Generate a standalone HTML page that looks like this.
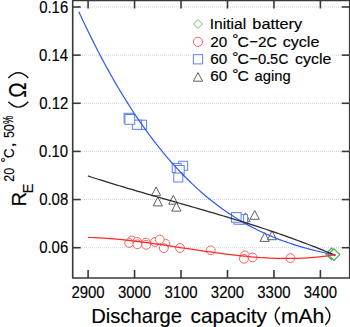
<!DOCTYPE html>
<html><head><meta charset="utf-8"><style>
html,body{margin:0;padding:0;background:#fff;overflow:hidden;width:350px;height:327px;}
svg{display:block;}
text{font-family:"Liberation Sans",sans-serif;fill:#000;stroke:#000;stroke-width:0.16px;}
.ax{stroke:#383838;stroke-width:1.6;fill:none;stroke-linejoin:round;}
.par{stroke:#111;stroke-width:1.45;fill:none;}
.grid{stroke:#d0d0f7;stroke-width:1;stroke-dasharray:1 1;fill:none;}
.sq{fill:#fff;stroke:#5f80f2;stroke-width:1;}
.ci{fill:#fff;stroke:#ff6060;stroke-width:1;}
.tr{fill:#fff;stroke:#606060;stroke-width:1;}
.di{fill:#fff;stroke:#44b044;stroke-width:1.2;}
.dl{fill:#fff;stroke:#66c266;stroke-width:1;}
.cb{fill:none;stroke:#2b5cf0;stroke-width:1.2;}
.ck{fill:none;stroke:#2a2a2a;stroke-width:1.25;}
.cr{fill:none;stroke:#ff2a2a;stroke-width:1.25;}
</style></head><body>
<svg width="350" height="327" viewBox="0 0 350 327">
<rect width="350" height="327" fill="#fff"/>
<line x1="80" y1="7.00" x2="341" y2="7.00" class="grid"/><line x1="80" y1="55.14" x2="341" y2="55.14" class="grid"/><line x1="80" y1="103.28" x2="341" y2="103.28" class="grid"/><line x1="80" y1="151.42" x2="341" y2="151.42" class="grid"/><line x1="80" y1="199.56" x2="341" y2="199.56" class="grid"/><line x1="80" y1="247.70" x2="341" y2="247.70" class="grid"/>
<path d="M156.10,186.90 L160.70,195.70 L151.50,195.70 Z" class="tr"/><path d="M157.80,197.10 L162.40,205.90 L153.20,205.90 Z" class="tr"/><path d="M173.30,195.40 L177.90,204.20 L168.70,204.20 Z" class="tr"/><path d="M176.40,202.30 L181.00,211.10 L171.80,211.10 Z" class="tr"/><path d="M245.50,212.80 L250.10,221.60 L240.90,221.60 Z" class="tr"/><path d="M254.70,210.50 L259.30,219.30 L250.10,219.30 Z" class="tr"/><path d="M264.70,232.60 L269.30,241.40 L260.10,241.40 Z" class="tr"/><path d="M272.10,230.90 L276.70,239.70 L267.50,239.70 Z" class="tr"/><rect x="137.40" y="120.20" width="9.2" height="9.2" class="sq"/><rect x="132.40" y="120.15" width="9.2" height="9.2" class="sq"/><rect x="124.10" y="113.30" width="9.5" height="9.5" class="sq"/><rect x="124.90" y="114.50" width="9.8" height="9.8" class="sq"/><rect x="178.65" y="161.25" width="9.0" height="9.0" class="sq"/><rect x="172.20" y="163.50" width="9.0" height="9.0" class="sq"/><rect x="175.20" y="165.50" width="9.0" height="9.0" class="sq"/><rect x="173.80" y="173.00" width="9.0" height="9.0" class="sq"/><rect x="238.20" y="214.60" width="9.4" height="9.4" class="sq"/><rect x="234.00" y="214.60" width="9.6" height="9.6" class="sq"/><rect x="231.50" y="212.60" width="9.6" height="9.6" class="sq"/><circle cx="131.80" cy="240.50" r="4.4" class="ci"/><circle cx="129.20" cy="243.00" r="4.4" class="ci"/><circle cx="137.20" cy="242.00" r="4.4" class="ci"/><circle cx="137.40" cy="244.30" r="4.4" class="ci"/><circle cx="146.00" cy="242.60" r="4.4" class="ci"/><circle cx="146.20" cy="244.80" r="4.4" class="ci"/><circle cx="155.00" cy="242.00" r="4.4" class="ci"/><circle cx="165.50" cy="243.80" r="4.4" class="ci"/><circle cx="159.75" cy="239.50" r="4.4" class="ci"/><circle cx="163.80" cy="248.10" r="4.4" class="ci"/><circle cx="180.00" cy="248.00" r="4.4" class="ci"/><circle cx="210.80" cy="250.30" r="4.4" class="ci"/><circle cx="245.00" cy="255.40" r="4.4" class="ci"/><circle cx="243.90" cy="258.80" r="4.4" class="ci"/><circle cx="252.60" cy="257.40" r="4.4" class="ci"/><circle cx="290.40" cy="258.10" r="4.4" class="ci"/><path d="M331.60,248.10 L337.40,253.90 L331.60,259.70 L325.80,253.90 Z" class="di"/><path d="M334.00,248.80 L339.80,254.60 L334.00,260.40 L328.20,254.60 Z" class="di"/>
<polyline points="78.80,11.66 82.05,18.67 85.30,25.54 88.54,32.27 91.79,38.87 95.04,45.34 98.29,51.67 101.54,57.87 104.78,63.94 108.03,69.88 111.28,75.70 114.53,81.39 117.78,86.95 121.03,92.39 124.27,97.71 127.52,102.92 130.77,108.00 134.02,112.97 137.27,117.82 140.51,122.56 143.76,127.18 147.01,131.70 150.26,136.11 153.51,140.40 156.75,144.60 160.00,148.68 163.25,152.67 166.50,156.55 169.75,160.33 172.99,164.02 176.24,167.60 179.49,171.09 182.74,174.49 185.99,177.79 189.24,181.00 192.48,184.12 195.73,187.16 198.98,190.10 202.23,192.96 205.48,195.74 208.72,198.43 211.97,201.05 215.22,203.58 218.47,206.03 221.72,208.41 224.96,210.72 228.21,212.95 231.46,215.10 234.71,217.19 237.96,219.21 241.21,221.16 244.45,223.04 247.70,224.86 250.95,226.62 254.20,228.31 257.45,229.95 260.69,231.52 263.94,233.04 267.19,234.50 270.44,235.91 273.69,237.27 276.93,238.57 280.18,239.83 283.43,241.03 286.68,242.19 289.93,243.30 293.17,244.37 296.42,245.40 299.67,246.39 302.92,247.33 306.17,248.24 309.42,249.11 312.66,249.95 315.91,250.75 319.16,251.52 322.41,252.26 325.66,252.97 328.90,253.66 332.15,254.32 335.40,254.95" class="cb"/>
<polyline points="87.90,175.96 91.03,176.98 94.17,177.98 97.30,178.98 100.43,179.97 103.56,180.95 106.70,181.92 109.83,182.88 112.96,183.84 116.10,184.80 119.23,185.74 122.36,186.68 125.49,187.62 128.63,188.55 131.76,189.47 134.89,190.39 138.03,191.31 141.16,192.22 144.29,193.13 147.43,194.04 150.56,194.94 153.69,195.85 156.82,196.75 159.96,197.64 163.09,198.54 166.22,199.43 169.36,200.33 172.49,201.22 175.62,202.12 178.75,203.01 181.89,203.91 185.02,204.80 188.15,205.70 191.29,206.60 194.42,207.50 197.55,208.40 200.68,209.31 203.82,210.21 206.95,211.13 210.08,212.04 213.22,212.96 216.35,213.88 219.48,214.81 222.62,215.74 225.75,216.68 228.88,217.63 232.01,218.58 235.15,219.53 238.28,220.49 241.41,221.46 244.55,222.44 247.68,223.42 250.81,224.42 253.94,225.42 257.08,226.43 260.21,227.44 263.34,228.47 266.48,229.51 269.61,230.56 272.74,231.61 275.87,232.68 279.01,233.76 282.14,234.85 285.27,235.95 288.41,237.07 291.54,238.19 294.67,239.33 297.81,240.48 300.94,241.65 304.07,242.82 307.20,244.02 310.34,245.22 313.47,246.45 316.60,247.68 319.74,248.93 322.87,250.20 326.00,251.48 329.13,252.78 332.27,254.10 335.40,255.43" class="ck"/>
<polyline points="87.90,237.39 91.03,237.50 94.17,237.62 97.30,237.77 100.43,237.95 103.56,238.14 106.70,238.36 109.83,238.60 112.96,238.86 116.10,239.13 119.23,239.43 122.36,239.74 125.49,240.07 128.63,240.41 131.76,240.77 134.89,241.14 138.03,241.52 141.16,241.92 144.29,242.32 147.43,242.74 150.56,243.17 153.69,243.60 156.82,244.05 159.96,244.50 163.09,244.96 166.22,245.42 169.36,245.88 172.49,246.35 175.62,246.82 178.75,247.30 181.89,247.77 185.02,248.25 188.15,248.72 191.29,249.20 194.42,249.67 197.55,250.13 200.68,250.60 203.82,251.06 206.95,251.51 210.08,251.95 213.22,252.39 216.35,252.82 219.48,253.24 222.62,253.66 225.75,254.06 228.88,254.44 232.01,254.82 235.15,255.18 238.28,255.53 241.41,255.86 244.55,256.18 247.68,256.48 250.81,256.76 253.94,257.03 257.08,257.27 260.21,257.50 263.34,257.70 266.48,257.88 269.61,258.04 272.74,258.18 275.87,258.29 279.01,258.37 282.14,258.43 285.27,258.47 288.41,258.47 291.54,258.45 294.67,258.39 297.81,258.31 300.94,258.20 304.07,258.05 307.20,257.87 310.34,257.65 313.47,257.41 316.60,257.12 319.74,256.80 322.87,256.45 326.00,256.05 329.13,255.62 332.27,255.14 335.40,254.63" class="cr"/>
<rect x="72.7" y="0.5" width="277.00" height="277.50" class="ax"/>
<line x1="72.7" y1="7.00" x2="80.7" y2="7.00" class="ax"/><line x1="341.7" y1="7.00" x2="349.7" y2="7.00" class="ax"/><line x1="72.7" y1="55.14" x2="80.7" y2="55.14" class="ax"/><line x1="341.7" y1="55.14" x2="349.7" y2="55.14" class="ax"/><line x1="72.7" y1="103.28" x2="80.7" y2="103.28" class="ax"/><line x1="341.7" y1="103.28" x2="349.7" y2="103.28" class="ax"/><line x1="72.7" y1="151.42" x2="80.7" y2="151.42" class="ax"/><line x1="341.7" y1="151.42" x2="349.7" y2="151.42" class="ax"/><line x1="72.7" y1="199.56" x2="80.7" y2="199.56" class="ax"/><line x1="341.7" y1="199.56" x2="349.7" y2="199.56" class="ax"/><line x1="72.7" y1="247.70" x2="80.7" y2="247.70" class="ax"/><line x1="341.7" y1="247.70" x2="349.7" y2="247.70" class="ax"/><line x1="88.10" y1="278" x2="88.10" y2="270" class="ax"/><line x1="88.10" y1="0.5" x2="88.10" y2="8.5" class="ax"/><line x1="134.56" y1="278" x2="134.56" y2="270" class="ax"/><line x1="134.56" y1="0.5" x2="134.56" y2="8.5" class="ax"/><line x1="181.02" y1="278" x2="181.02" y2="270" class="ax"/><line x1="181.02" y1="0.5" x2="181.02" y2="8.5" class="ax"/><line x1="227.48" y1="278" x2="227.48" y2="270" class="ax"/><line x1="227.48" y1="0.5" x2="227.48" y2="8.5" class="ax"/><line x1="273.94" y1="278" x2="273.94" y2="270" class="ax"/><line x1="273.94" y1="0.5" x2="273.94" y2="8.5" class="ax"/><line x1="320.40" y1="278" x2="320.40" y2="270" class="ax"/><line x1="320.40" y1="0.5" x2="320.40" y2="8.5" class="ax"/>
<text transform="translate(39.14,12.70) scale(0.88,1)" style="font-size:17px">0.16</text><text transform="translate(38.92,60.84) scale(0.88,1)" style="font-size:17px">0.14</text><text transform="translate(39.24,108.98) scale(0.88,1)" style="font-size:17px">0.12</text><text transform="translate(39.07,157.12) scale(0.88,1)" style="font-size:17px">0.10</text><text transform="translate(39.13,205.26) scale(0.88,1)" style="font-size:17px">0.08</text><text transform="translate(39.14,253.40) scale(0.88,1)" style="font-size:17px">0.06</text><text transform="translate(71.38,297.5) scale(0.88,1)" style="font-size:17px">2900</text><text transform="translate(117.93,297.5) scale(0.88,1)" style="font-size:17px">3000</text><text transform="translate(164.39,297.5) scale(0.88,1)" style="font-size:17px">3100</text><text transform="translate(210.85,297.5) scale(0.88,1)" style="font-size:17px">3200</text><text transform="translate(257.31,297.5) scale(0.88,1)" style="font-size:17px">3300</text><text transform="translate(303.77,297.5) scale(0.88,1)" style="font-size:17px">3400</text>
<rect x="190.3" y="14" width="140.4" height="72" fill="#fff"/><path d="M198.00,19.50 L202.50,24.00 L198.00,28.50 L193.50,24.00 Z" class="dl"/><circle cx="198.00" cy="41.80" r="4.6" class="ci"/><rect x="193.40" y="54.70" width="9.2" height="9.2" class="sq"/><path d="M198.00,72.60 L202.70,81.20 L193.30,81.20 Z" class="tr"/><text transform="translate(209.66,29.00) scale(1.0084,1)" style="font-size:15.5px" >Initial</text><text transform="translate(252.35,29.00) scale(1.0506,1)" style="font-size:15.5px" >battery</text><text transform="translate(210.23,46.60) scale(0.9839,1)" style="font-size:15.5px" >20</text><text transform="translate(232.02,44.40) scale(1.0589,1)" style="font-size:15.5px" >°</text><text transform="translate(237.50,46.60) scale(1.0187,1)" style="font-size:15.5px" >C</text><text transform="translate(249.28,46.60) scale(0.9428,1)" style="font-size:15.5px" >−</text><text transform="translate(257.93,46.60) scale(0.9913,1)" style="font-size:15.5px" >2</text><text transform="translate(266.58,46.60) scale(0.9169,1)" style="font-size:15.5px" >C</text><text transform="translate(282.72,46.60) scale(1.0393,1)" style="font-size:15.5px" >cycle</text><text transform="translate(210.23,64.10) scale(0.9843,1)" style="font-size:15.5px" >60</text><text transform="translate(232.02,61.90) scale(1.0589,1)" style="font-size:15.5px" >°</text><text transform="translate(237.50,64.10) scale(1.0187,1)" style="font-size:15.5px" >C</text><text transform="translate(249.28,64.10) scale(0.9428,1)" style="font-size:15.5px" >−</text><text transform="translate(258.02,64.10) scale(0.9582,1)" style="font-size:15.5px" >0</text><text transform="translate(264.99,64.10) scale(1.4907,1)" style="font-size:15.5px" >.</text><text transform="translate(270.12,64.10) scale(0.9389,1)" style="font-size:15.5px" >5</text><text transform="translate(278.61,64.10) scale(0.8761,1)" style="font-size:15.5px" >C</text><text transform="translate(295.02,64.10) scale(1.0275,1)" style="font-size:15.5px" >cycle</text><text transform="translate(210.23,81.20) scale(0.9843,1)" style="font-size:15.5px" >60</text><text transform="translate(232.02,79.00) scale(1.0589,1)" style="font-size:15.5px" >°</text><text transform="translate(237.50,81.20) scale(1.0187,1)" style="font-size:15.5px" >C</text><text transform="translate(254.47,81.20) scale(0.9540,1)" style="font-size:15.5px" >aging</text>
<text transform="translate(91.14,323.10) scale(0.9855,1)" style="font-size:20.5px" >Discharge</text><text transform="translate(190.61,323.10) scale(1.0163,1)" style="font-size:20.5px" >capacity</text><text transform="translate(281.00,323.10) scale(1.0289,1)" style="font-size:20.5px" >mAh</text><path d="M279.9,307 Q270.9,316 279.9,325" class="par"/><path d="M325.3,307 Q334.3,316 325.3,325" class="par"/>
<text transform="translate(25.60,206.56) rotate(-90) scale(0.9859,1)" style="font-size:20.5px">R</text><text transform="translate(33.00,193.51) rotate(-90) scale(0.9523,1)" style="font-size:15.5px">E</text><text transform="translate(13.60,181.83) rotate(-90) scale(0.9008,1)" style="font-size:14px">20</text><text transform="translate(11.20,162.41) rotate(-90) scale(0.9684,1)" style="font-size:14px">°</text><text transform="translate(13.60,158.07) rotate(-90) scale(0.9474,1)" style="font-size:14px">C</text><text transform="translate(13.60,147.83) rotate(-90) scale(1.4556,1)" style="font-size:14px">,</text><text transform="translate(13.60,138.10) rotate(-90) scale(0.8849,1)" style="font-size:14px">50</text><text transform="translate(12.80,123.93) rotate(-90) scale(0.6637,1)" style="font-size:14px">%</text><text transform="translate(26.00,97.67) rotate(-90) scale(0.8384,1)" style="font-size:24.5px">Ω</text><path d="M8.4,101.8 Q18.35,112.4 28.3,101.8" class="par"/><path d="M8.4,78 Q18.35,67.4 28.3,78" class="par"/>
</svg>
</body></html>
